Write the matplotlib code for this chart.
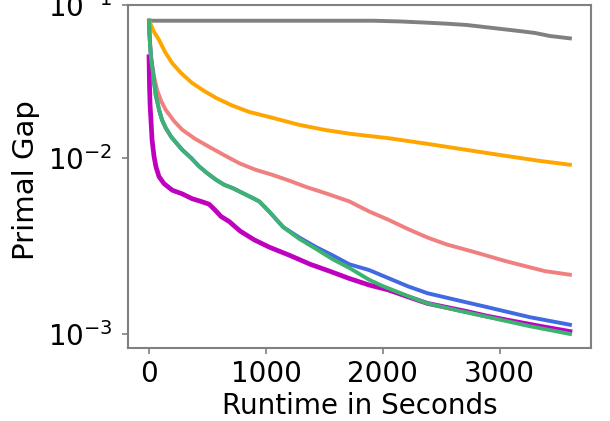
import numpy as np
import matplotlib
matplotlib.use("Agg")
import matplotlib.pyplot as plt
from matplotlib.ticker import FixedLocator, FixedFormatter

# primal gap curves (runtime in seconds, gap)
grey_t = [0, 500, 1000, 1500, 1916, 2150, 2382, 2550, 2717, 2950, 3215, 3300, 3430, 3600]
grey_gap = [0.0776, 0.0776, 0.0776, 0.0776, 0.0776, 0.0767, 0.0752, 0.0740, 0.0725, 0.0690, 0.0652,
            0.0639, 0.0609, 0.0587]

orange_t = [0, 17, 43, 86, 137, 197, 274, 369, 471, 574, 711, 857, 1046, 1286, 1500, 1714, 2057,
            2382, 2717, 3051, 3342, 3600]
orange_gap = [0.0776, 0.0725, 0.0649, 0.0572, 0.0475, 0.0401, 0.0344, 0.0296, 0.0263, 0.0237, 0.0212,
              0.0193, 0.0178, 0.0160, 0.0149, 0.0141, 0.0132, 0.0122, 0.0112, 0.0103, 0.0096, 0.0091]

pink_t = [0, 4, 9, 17, 26, 43, 69, 103, 143, 214, 285, 394, 514, 643, 771, 908, 1057, 1200, 1343,
          1525, 1714, 1783, 1885, 2048, 2216, 2382, 2550, 2794, 3051, 3385, 3600]
pink_gap = [0.0776, 0.0649, 0.0554, 0.0453, 0.0395, 0.0326, 0.0267, 0.0227, 0.0199, 0.0169, 0.0149,
            0.0131, 0.0117, 0.0104, 0.0093, 0.0085, 0.0079, 0.0073, 0.0067, 0.0061, 0.0055, 0.0052,
            0.0048, 0.0043, 0.0038, 0.0034, 0.0031, 0.0028, 0.0025, 0.0022, 0.0021]

blue_t = [0, 4, 9, 17, 28, 43, 57, 86, 111, 143, 189, 240, 285, 360, 428, 497, 572, 643, 714, 814,
          900, 943, 1028, 1148, 1286, 1429, 1568, 1714, 1882, 2048, 2216, 2382, 2657, 2880, 3257, 3600]
blue_gap = [0.0776, 0.0619, 0.0529, 0.0433, 0.0372, 0.0301, 0.0248, 0.0199, 0.0172, 0.0153, 0.0135,
            0.0122, 0.0112, 0.0100, 0.0089, 0.0081, 0.0074, 0.0069, 0.0066, 0.0061, 0.0057, 0.0055,
            0.0048, 0.0039, 0.0034, 0.0030, 0.0027, 0.0024, 0.00223, 0.00201, 0.00181, 0.00166,
            0.00151, 0.00140, 0.00123, 0.00112]

green_t = [0, 4, 9, 17, 28, 43, 57, 86, 111, 143, 189, 240, 285, 360, 428, 497, 572, 643, 714, 814,
           900, 943, 1028, 1148, 1286, 1429, 1568, 1714, 1882, 1997, 2216, 2382, 2657, 2880, 3257, 3600]
green_gap = [0.0776, 0.0619, 0.0529, 0.0433, 0.0372, 0.0301, 0.0248, 0.0199, 0.0172, 0.0153, 0.0135,
             0.0122, 0.0112, 0.0100, 0.0089, 0.0081, 0.0074, 0.0069, 0.0066, 0.0061, 0.0057, 0.0055,
             0.0048, 0.0039, 0.00334, 0.00293, 0.00257, 0.00229, 0.00197, 0.00182, 0.00160, 0.00146,
             0.00133, 0.00124, 0.00110, 0.00100]

magenta_t = [0, 4, 9, 15, 26, 43, 60, 86, 129, 200, 283, 371, 446, 514, 565, 615, 686, 780, 900,
             1028, 1200, 1380, 1543, 1714, 1885, 2048, 2211, 2382, 2545, 2717, 2880, 3051, 3342, 3600]
magenta_gap = [0.0441, 0.0287, 0.0214, 0.0180, 0.0129, 0.0102, 0.0088, 0.0077, 0.0070, 0.0064, 0.0061,
               0.0057, 0.0055, 0.0053, 0.0049, 0.0045, 0.0042, 0.0037, 0.0033, 0.0030, 0.0027, 0.0024,
               0.0022, 0.0020, 0.00184, 0.00173, 0.00159, 0.00146, 0.00139, 0.00132, 0.00125, 0.00119,
               0.00110, 0.00103]

y_ticks = [1e-3, 1e-2, 1e-1]
y_tick_labels = [r"$\mathdefault{10^{-3}}$", r"$\mathdefault{10^{-2}}$", r"$\mathdefault{10^{-1}}$"]
x_ticks = [0, 1000, 2000, 3000]


# the decades in the reference are not evenly spaced, so use a stretched log scale
def stretched_log(y):
    L = np.log10(np.clip(y, 1e-12, None))
    return -11.5 * L ** 2 + 118.5 * L


def stretched_log_inv(u):
    L = (118.5 - np.sqrt(np.clip(118.5 ** 2 - 46 * u, 0, None))) / 23
    return 10 ** L


fig = plt.figure(figsize=(6.1, 4.21), dpi=100)
ax = fig.add_axes([0.2098, 0.1734, 0.7590, 0.8147])

lw = 2.8
ax.plot(grey_t, grey_gap, color="#808080", lw=lw)
ax.plot(orange_t, orange_gap, color="#FFA500", lw=lw)
ax.plot(pink_t, pink_gap, color="#F08080", lw=lw)
ax.plot(blue_t, blue_gap, color="#4169E1", lw=lw)
ax.plot(magenta_t, magenta_gap, color="#BF00BF", lw=3.4)
ax.plot(green_t, green_gap, color="#3CB371", lw=lw)

ax.set_yscale("function", functions=(stretched_log, stretched_log_inv))
ax.set_ylim(8.42e-4, 0.1)
ax.yaxis.set_major_locator(FixedLocator(y_ticks))
ax.yaxis.set_major_formatter(FixedFormatter(y_tick_labels))
ax.yaxis.set_minor_locator(FixedLocator([]))
ax.set_xticks(x_ticks)

for s in ax.spines.values():
    s.set_color("#808080")
    s.set_linewidth(1.5)
ax.tick_params(labelsize=20, color="#808080", width=1.2, length=4)
ax.tick_params(axis="y", pad=7)
ax.tick_params(axis="x", pad=4.5)

ax.set_xlabel("Runtime in Seconds", fontsize=20, labelpad=3)
ax.set_ylabel("Primal Gap", fontsize=21, labelpad=6)
ax.yaxis.label.set_y(0.49)

fig.savefig("out.png", dpi=100)
